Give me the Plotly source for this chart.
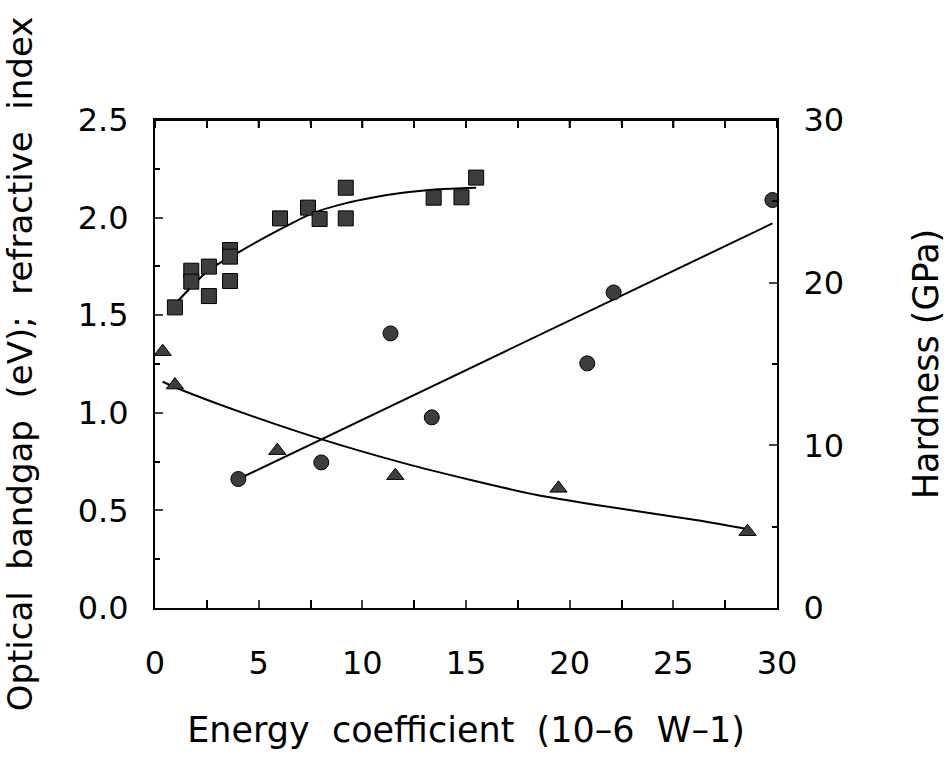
import plotly.graph_objects as go

# Refractive index (squares, left axis)
sq_x = [0.96, 1.75, 1.75, 2.60, 2.60, 3.62, 3.62, 3.62, 6.03, 7.38, 7.94, 9.20, 9.20, 13.44, 14.78, 15.49]
sq_y = [1.540, 1.728, 1.672, 1.749, 1.598, 1.834, 1.800, 1.675, 1.996, 2.051, 1.993, 2.153, 1.996, 2.102, 2.104, 2.205]
sq_fit_x = [1.07, 2.60, 4.07, 5.98, 7.58, 9.17, 10.45, 12.04, 13.64, 15.49]
sq_fit_y = [1.569, 1.732, 1.825, 1.937, 2.022, 2.073, 2.102, 2.128, 2.145, 2.153]

# Optical bandgap (triangles, left axis)
tri_x = [0.37, 0.96, 5.90, 11.59, 19.46, 28.58]
tri_y = [1.313, 1.142, 0.806, 0.678, 0.613, 0.391]
tri_fit_x = [0.37, 0.96, 4.07, 8.05, 12.04, 15.23, 18.42, 21.29, 26.08, 28.63]
tri_fit_y = [1.159, 1.131, 1.006, 0.864, 0.741, 0.656, 0.579, 0.528, 0.451, 0.403]

# Hardness (circles, right axis)
cir_x = [4.02, 8.02, 11.36, 13.35, 20.85, 22.12, 29.78]
cir_y = [7.93, 8.95, 16.88, 11.72, 15.04, 19.40, 25.08]
cir_fit_x = [4.02, 29.78]
cir_fit_y = [7.93, 23.64]

x_ticks = [0, 5, 10, 15, 20, 25, 30]
x_minor_ticks = [2.5, 7.5, 12.5, 17.5, 22.5, 27.5]
y_ticks = [0, 0.5, 1.0, 1.5, 2.0, 2.5]
y_ticktext = ["0.0", "0.5", "1.0", "1.5", "2.0", "2.5"]
y2_ticks = [0, 10, 20, 30]

FONT = "DejaVu Sans"
mk_color = "#3d3d3d"
NB = "\u00a0"
PLOT_H = 488  # plot area height in px (761 - 120 - 153)

fig = go.Figure()
fig.add_trace(go.Scatter(x=sq_fit_x, y=sq_fit_y, mode="lines", line=dict(color="black", width=2, shape="spline", smoothing=0.6), showlegend=False))
fig.add_trace(go.Scatter(x=tri_fit_x, y=tri_fit_y, mode="lines", line=dict(color="black", width=2, shape="spline", smoothing=0.6), showlegend=False))
fig.add_trace(go.Scatter(x=cir_fit_x, y=cir_fit_y, mode="lines", yaxis="y2", line=dict(color="black", width=2), showlegend=False))
fig.add_trace(go.Scatter(x=sq_x, y=sq_y, mode="markers", showlegend=False,
                         marker=dict(symbol="square", size=15, color=mk_color, line=dict(color="black", width=1))))
fig.add_trace(go.Scatter(x=tri_x, y=tri_y, mode="markers", showlegend=False,
                         marker=dict(symbol="triangle-up", size=15, color=mk_color, line=dict(color="black", width=1))))
fig.add_trace(go.Scatter(x=cir_x, y=cir_y, mode="markers", yaxis="y2", showlegend=False,
                         marker=dict(symbol="circle", size=15, color=mk_color, line=dict(color="black", width=1))))

# top frame line and inward ticks on the top edge
shapes = [dict(type="line", xref="paper", yref="paper", x0=0, x1=1, y0=1, y1=1,
               line=dict(color="black", width=2))]
for v in x_ticks:
    shapes.append(dict(type="line", xref="x", yref="paper", x0=v, x1=v, y0=1, y1=1 - 8 / PLOT_H,
                       line=dict(color="black", width=2)))
for v in x_minor_ticks:
    shapes.append(dict(type="line", xref="x", yref="paper", x0=v, x1=v, y0=1, y1=1 - 5 / PLOT_H,
                       line=dict(color="black", width=1.5)))

fig.update_layout(
    width=951, height=761,
    margin=dict(l=155, r=169, t=120, b=153),
    paper_bgcolor="white", plot_bgcolor="white",
    font=dict(family=FONT, size=32, color="black"),
    xaxis=dict(range=[0, 30], tickvals=x_ticks, ticks="inside", ticklen=8, tickwidth=2,
               minor=dict(dtick=2.5, ticks="inside", ticklen=5, tickwidth=1.5, tickcolor="black"),
               showline=True, linecolor="black", linewidth=2, mirror="allticks", showgrid=False, zeroline=False,
               ticklabelstandoff=26,
               title=dict(text=f"Energy{NB} coefficient{NB} (10\u20136{NB} W\u20131)", font=dict(size=35), standoff=36)),
    yaxis=dict(range=[0, 2.5], tickvals=y_ticks, ticktext=y_ticktext,
               ticks="inside", ticklen=8, tickwidth=2,
               minor=dict(dtick=0.25, ticks="inside", ticklen=5, tickwidth=1.5, tickcolor="black"),
               showline=True, linecolor="black", linewidth=2, showgrid=False, zeroline=False,
               ticklabelstandoff=18,
               title=dict(text=f"Optical{NB} bandgap{NB} (eV);{NB} refractive{NB} index", font=dict(size=34), standoff=35)),
    yaxis2=dict(range=[0, 30], tickvals=y2_ticks, overlaying="y", side="right",
                ticks="inside", ticklen=8, tickwidth=2,
                minor=dict(dtick=5, ticks="inside", ticklen=5, tickwidth=1.5, tickcolor="black"),
                showline=True, linecolor="black", linewidth=2, showgrid=False, zeroline=False,
                ticklabelstandoff=18,
                title=dict(text="Hardness (GPa)", font=dict(size=35), standoff=70)),
    shapes=shapes,
)

fig.write_html("out.html")
